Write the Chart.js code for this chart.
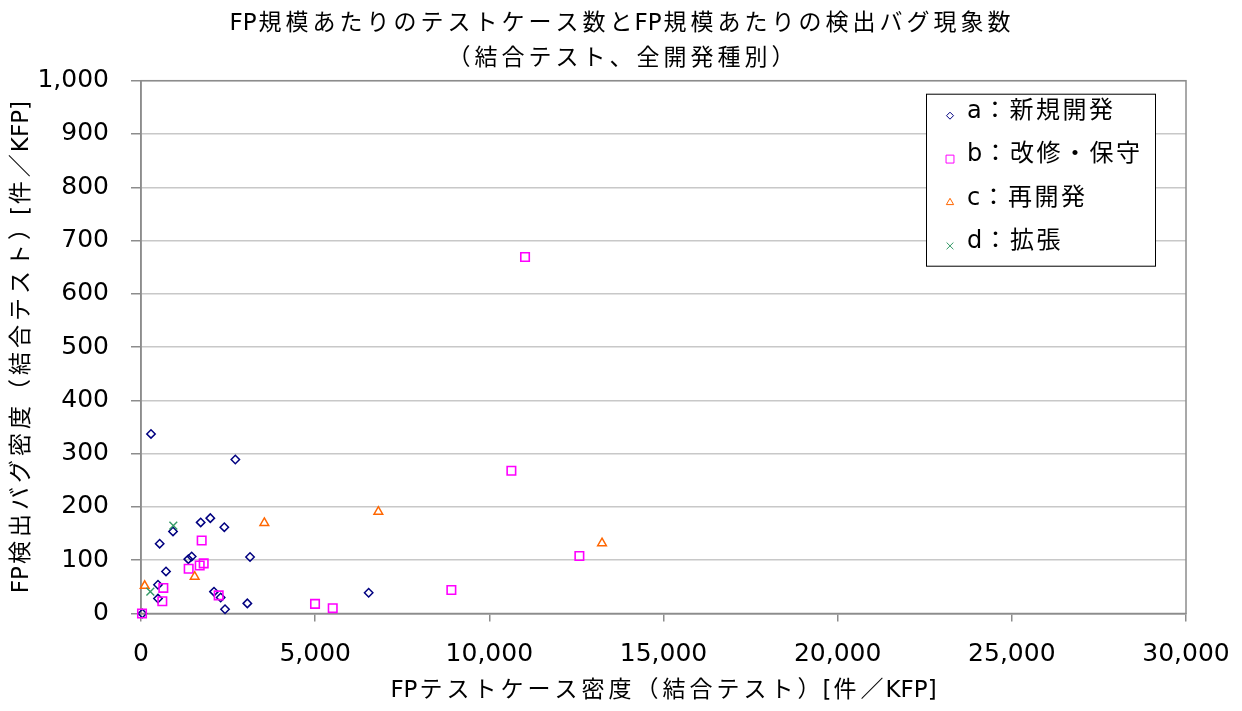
<!DOCTYPE html>
<html lang="ja">
<head>
<meta charset="utf-8">
<title>FP規模あたりのテストケース数と検出バグ現象数</title>
<script src="https://cdn.jsdelivr.net/npm/chart.js@4.4.1/dist/chart.umd.min.js"></script>
<style>
  html, body { margin: 0; padding: 0; background: #fff; }
  #wrap { width: 1242px; height: 711px; }
</style>
</head>
<body>
<div id="wrap"><canvas id="chart" width="1242" height="711"></canvas></div>
<script>
// タイトルと軸ラベル
const titleLines = ['FP規模あたりのテストケース数とFP規模あたりの検出バグ現象数', '（結合テスト、全開発種別）'];
const xTitle = 'FPテストケース密度（結合テスト）[件／KFP]';
const yTitle = 'FP検出バグ密度（結合テスト）[件／KFP]';
const seriesNames = ['a：新規開発', 'b：改修・保守', 'c：再開発', 'd：拡張'];

// 軸の範囲と目盛り
const xTicks = [0, 5000, 10000, 15000, 20000, 25000, 30000];
const yTicks = [0, 100, 200, 300, 400, 500, 600, 700, 800, 900, 1000];

// a：新規開発
const aX = [38, 287, 488, 488, 536, 718, 919, 1359, 1455, 1714, 1990, 2096, 2287, 2392, 2412, 2708, 3053, 3130, 6536];
const aY = [0, 337, 54, 28, 131, 79, 154, 102, 107, 171, 179, 41, 30, 162, 8, 289, 19, 106, 39];
// b：改修・保守
const bX = [29, 612, 641, 1369, 1685, 1742, 1800, 2230, 4996, 5504, 8910, 10633, 11025, 12585];
const bY = [0, 23, 48, 84, 90, 137, 94, 34, 18, 10, 44, 268, 669, 108];
// c：再開発
const cX = [106, 1541, 3541, 6814, 13235];
const cY = [52, 69, 170, 191, 132];
// d：拡張
const dX = [268, 928];
const dY = [41, 165];

const fontFamily = '"DejaVu Sans", "Noto Sans CJK JP", sans-serif';
const isWide = /[^\x00-\x7f]/;

function toPoints(xs, ys) {
  return xs.map((x, i) => ({ x: x, y: ys[i] }));
}

// 和文の文字だけ字間を広げて描く（英数字はそのまま）
const cjkSpacing = {
  id: 'cjkSpacing',
  beforeInit(chart) {
    const ctx = chart.ctx;
    const fill = ctx.fillText.bind(ctx);
    ctx.cjkGap = 4;
    ctx.fillText = function(text, x, y, maxWidth) {
      text = String(text);
      if (!isWide.test(text)) {
        if (maxWidth === undefined) fill(text, x, y); else fill(text, x, y, maxWidth);
        return;
      }
      const gap = ctx.cjkGap;
      const chars = Array.from(text);
      const widths = chars.map(c => ctx.measureText(c).width + (isWide.test(c) ? gap : 0));
      const total = widths.reduce((s, w) => s + w, 0);
      const align = ctx.textAlign;
      let pos = x;
      if (align === 'center') pos = x - total / 2;
      else if (align === 'right' || align === 'end') pos = x - total;
      ctx.textAlign = 'left';
      chars.forEach((c, i) => {
        fill(c, pos + (isWide.test(c) ? gap / 2 : 0), y);
        pos += widths[i];
      });
      ctx.textAlign = align;
    };
  }
};

// プロットエリアの枠線
const plotFrame = {
  id: 'plotFrame',
  beforeDatasetsDraw(chart) {
    const a = chart.chartArea;
    const ctx = chart.ctx;
    ctx.save();
    ctx.strokeStyle = '#8c8c8c';
    ctx.lineWidth = 1.5;
    ctx.strokeRect(a.left, a.top, a.right - a.left, a.bottom - a.top);
    ctx.restore();
  }
};

// 枠付きの凡例（プロットエリア内）
const boxLegend = {
  id: 'boxLegend',
  afterDraw(chart) {
    const ctx = chart.ctx;
    const a = chart.chartArea;
    const left = a.right - 260, top = a.top + 13, w = 229, h = 172;
    ctx.save();
    ctx.fillStyle = '#fff';
    ctx.fillRect(left, top, w, h);
    ctx.strokeStyle = '#000';
    ctx.lineWidth = 1;
    ctx.strokeRect(left + 0.5, top + 0.5, w, h);
    chart.data.datasets.forEach((ds, i) => {
      const ty = top + 18 + i * 43.4;
      ctx.strokeStyle = ds.borderColor;
      ctx.fillStyle = 'rgba(0,0,0,0)';
      Chart.helpers.drawPoint(ctx, {
        pointStyle: ds.pointStyle,
        radius: ds.legendRadius,
        rotation: 0,
        borderWidth: 1.3
      }, left + 24, ty + 4);
      ctx.fillStyle = '#000';
      ctx.font = '24px ' + fontFamily;
      ctx.textAlign = 'left';
      ctx.textBaseline = 'middle';
      ctx.cjkGap = 2.5;
      ctx.fillText(ds.label, left + 41, ty);
      ctx.cjkGap = 4;
    });
    ctx.restore();
  }
};

const ctx = document.getElementById('chart').getContext('2d');
new Chart(ctx, {
  type: 'scatter',
  data: {
    datasets: [{
      label: seriesNames[0],
      data: toPoints(aX, aY),
      pointStyle: 'rectRot',
      pointRadius: 4.2,
      legendRadius: 3.5,
      borderColor: '#000080',
      backgroundColor: 'rgba(0,0,0,0)',
      pointBorderWidth: 1.5,
      order: 4,
      clip: false
    }, {
      label: seriesNames[1],
      data: toPoints(bX, bY),
      pointStyle: 'rect',
      pointRadius: 6,
      legendRadius: 5.6,
      borderColor: '#ff00ff',
      backgroundColor: 'rgba(0,0,0,0)',
      pointBorderWidth: 1.6,
      order: 3,
      clip: false
    }, {
      label: seriesNames[2],
      data: toPoints(cX, cY),
      pointStyle: 'triangle',
      pointRadius: 5,
      legendRadius: 4.2,
      borderColor: '#ff6600',
      backgroundColor: 'rgba(0,0,0,0)',
      pointBorderWidth: 1.5,
      order: 2,
      clip: false
    }, {
      label: seriesNames[3],
      data: toPoints(dX, dY),
      pointStyle: 'crossRot',
      pointRadius: 5.5,
      legendRadius: 4.8,
      borderColor: '#339966',
      backgroundColor: 'rgba(0,0,0,0)',
      pointBorderWidth: 1.4,
      order: 1,
      clip: false
    }]
  },
  options: {
    responsive: false,
    animation: false,
    layout: { padding: 0 },
    plugins: {
      legend: { display: false },
      tooltip: { enabled: false },
      title: {
        display: true,
        text: titleLines,
        color: '#000',
        font: { family: fontFamily, size: 23, weight: 'normal', lineHeight: '35px' },
        padding: { top: 7, bottom: 3.7 }
      }
    },
    scales: {
      x: {
        type: 'linear',
        min: xTicks[0],
        max: xTicks[xTicks.length - 1],
        afterFit(scale) {
          scale.height = 97.5;
          scale.paddingRight = 56;
        },
        afterBuildTicks(scale) { scale.ticks = xTicks.map(v => ({ value: v })); },
        ticks: {
          color: '#000',
          font: { family: fontFamily, size: 25 },
          padding: 18,
          maxRotation: 0,
          callback: v => v.toLocaleString('en-US')
        },
        grid: { drawOnChartArea: false, drawTicks: true, tickLength: 8, color: '#8c8c8c', lineWidth: 1.5 },
        border: { display: true, color: '#8c8c8c', width: 1.5 },
        title: {
          display: true,
          text: xTitle,
          color: '#000',
          font: { family: fontFamily, size: 23 },
          padding: { top: 0, bottom: 6 }
        }
      },
      y: {
        type: 'linear',
        min: yTicks[0],
        max: yTicks[yTicks.length - 1],
        afterFit(scale) { scale.width = 141; },
        afterBuildTicks(scale) { scale.ticks = yTicks.map(v => ({ value: v })); },
        ticks: {
          color: '#000',
          font: { family: fontFamily, size: 25 },
          padding: 22,
          callback: v => v.toLocaleString('en-US')
        },
        grid: { color: '#c8c8c8', lineWidth: 1.5, tickLength: 10, tickColor: '#8c8c8c', tickWidth: 1.5 },
        border: { display: true, color: '#8c8c8c', width: 1.5 },
        title: {
          display: true,
          text: yTitle,
          color: '#000',
          font: { family: fontFamily, size: 23 },
          padding: { top: 8, bottom: 0 }
        }
      }
    }
  },
  plugins: [cjkSpacing, plotFrame, boxLegend]
});
</script>
</body>
</html>
